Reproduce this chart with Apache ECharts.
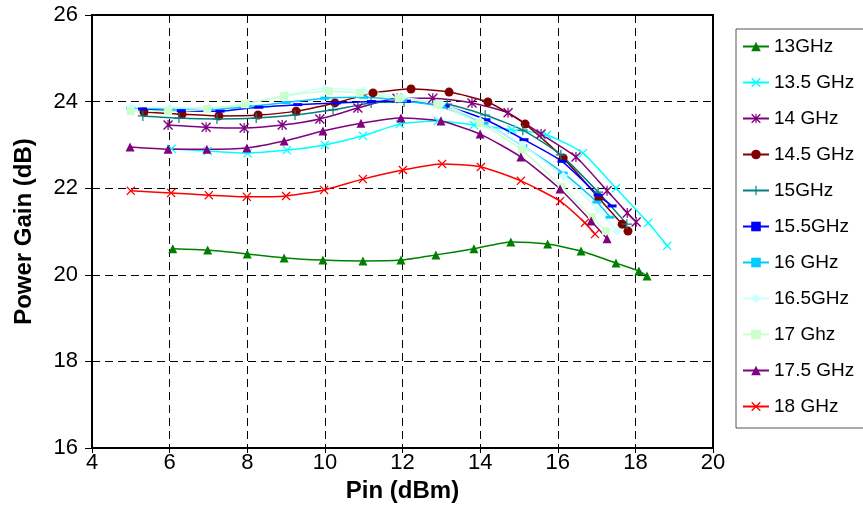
<!DOCTYPE html>
<html>
<head>
<meta charset="utf-8">
<script src="https://cdn.jsdelivr.net/npm/echarts@6/dist/echarts.min.js"></script>
<style>
  html, body { margin: 0; padding: 0; background: #fff; }
  #chart { width: 863px; height: 525px; }
</style>
</head>
<body>
<div id="chart"></div>
<script>
// Pin (dBm) / power gain (dB) per frequency
const pin13 = [6.08, 6.98, 8.0, 8.95, 9.95, 10.98, 11.96, 12.86, 13.84, 14.79, 15.74, 16.6, 17.5, 18.09, 18.3]
const gain13 = [20.6, 20.57, 20.48, 20.39, 20.34, 20.32, 20.34, 20.46, 20.6, 20.76, 20.71, 20.55, 20.27, 20.09, 19.97]

const pin135 = [6.05, 6.98, 8.01, 9.02, 10.0, 10.98, 11.93, 12.91, 13.84, 14.82, 15.72, 16.65, 17.5, 18.33, 18.82]
const gain135 = [22.91, 22.86, 22.81, 22.88, 23.0, 23.21, 23.48, 23.55, 23.46, 23.35, 23.23, 22.81, 22.0, 21.2, 20.67]

const pin14 = [5.96, 6.94, 7.92, 8.9, 9.87, 10.85, 11.86, 12.78, 13.79, 14.72, 15.57, 16.47, 17.27, 17.79, 18.02]
const gain14 = [23.46, 23.41, 23.39, 23.46, 23.6, 23.85, 24.08, 24.08, 23.97, 23.74, 23.25, 22.72, 21.94, 21.43, 21.22]

const pin145 = [5.34, 6.32, 7.27, 8.28, 9.26, 10.26, 11.24, 12.22, 13.2, 14.2, 15.16, 16.14, 17.06, 17.66, 17.81]
const gain145 = [23.76, 23.71, 23.67, 23.69, 23.78, 23.97, 24.2, 24.29, 24.22, 23.99, 23.48, 22.7, 21.77, 21.17, 21.01]

const pin15 = [5.31, 6.24, 7.22, 8.23, 9.23, 10.21, 11.19, 12.04, 13.15, 14.13, 15.1, 16.08, 17.04, 17.78]
const gain15 = [23.67, 23.62, 23.6, 23.62, 23.69, 23.81, 23.97, 23.99, 23.94, 23.69, 23.34, 22.77, 21.91, 21.17]

const pin155 = [5.3, 6.3, 7.3, 8.3, 9.3, 10.3, 11.2, 12.1, 13.1, 14.15, 15.13, 16.11, 17.04, 17.4]
const gain155 = [23.83, 23.79, 23.78, 23.87, 23.93, 23.97, 24.0, 24.01, 23.9, 23.58, 23.12, 22.62, 21.84, 21.59]

const pin16 = [5.0, 6.0, 7.0, 8.0, 9.0, 10.0, 11.0, 12.0, 13.0, 14.1, 15.1, 16.14, 17.01, 17.35]
const gain16 = [23.85, 23.83, 23.82, 23.88, 23.98, 24.08, 24.1, 24.02, 23.88, 23.5, 22.98, 22.35, 21.68, 21.33]

const pin165 = [5.0, 6.0, 7.0, 8.0, 9.0, 10.0, 11.0, 12.0, 13.0, 14.0, 15.08, 16.14, 17.04, 17.53]
const gain165 = [23.87, 23.86, 23.86, 23.96, 24.15, 24.3, 24.25, 24.1, 23.95, 23.55, 23.0, 22.28, 21.5, 21.01]

const pin17 = [5.0, 5.96, 6.97, 7.94, 8.95, 10.1, 10.9, 11.9, 12.9, 14.0, 15.08, 16.1, 16.88, 17.24]
const gain17 = [23.78, 23.78, 23.83, 23.94, 24.13, 24.24, 24.2, 24.08, 23.94, 23.5, 22.88, 22.03, 21.33, 21.01]

const pin175 = [4.98, 5.96, 6.96, 7.99, 8.95, 9.95, 10.93, 11.96, 12.99, 14.0, 15.05, 16.06, 16.86, 17.27]
const gain175 = [22.95, 22.9, 22.9, 22.93, 23.09, 23.32, 23.5, 23.62, 23.55, 23.25, 22.72, 21.98, 21.24, 20.83]

const pin18 = [5.0, 6.04, 7.01, 7.99, 9.0, 9.98, 10.98, 12.01, 13.02, 14.02, 15.05, 16.06, 16.7, 16.96]
const gain18 = [21.94, 21.89, 21.84, 21.8, 21.82, 21.96, 22.21, 22.42, 22.56, 22.49, 22.17, 21.7, 21.2, 20.94]

const names = ['13GHz', '13.5 GHz', '14 GHz', '14.5 GHz', '15GHz', '15.5GHz', '16 GHz', '16.5GHz', '17 Ghz', '17.5 GHz', '18 GHz']
const xTicks = [4, 6, 8, 10, 12, 14, 16, 18, 20]
const yTicks = [16, 18, 20, 22, 24, 26]

// marker shapes (Excel style)
const X_MARK = 'path://M0,1L1,0L5,4L9,0L10,1L6,5L10,9L9,10L5,6L1,10L0,9L4,5Z'
const PLUS_MARK = 'path://M4.4,0H5.6V4.4H10V5.6H5.6V10H4.4V5.6H0V4.4H4.4Z'
const STAR_MARK = 'path://M0,1L1,0L5,4L9,0L10,1L6,5L10,9L9,10L5,6L1,10L0,9L4,5ZM4.4,0H5.6V10H4.4Z'

const styles = [
  { color: '#008000', symbol: 'triangle', size: 9 },
  { color: '#00ffff', symbol: X_MARK, size: 9 },
  { color: '#800080', symbol: STAR_MARK, size: 10 },
  { color: '#800000', symbol: 'circle', size: 9 },
  { color: '#008080', symbol: PLUS_MARK, size: 10 },
  { color: '#0000ff', symbol: 'rect', size: [9, 3] },
  { color: '#00ccff', symbol: 'rect', size: [9, 3] },
  { color: '#ccffff', symbol: 'diamond', size: 9 },
  { color: '#ccffcc', symbol: 'rect', size: 8 },
  { color: '#800080', symbol: 'triangle', size: 9 },
  { color: '#ff0000', symbol: X_MARK, size: 9 }
]

const pins = [pin13, pin135, pin14, pin145, pin15, pin155, pin16, pin165, pin17, pin175, pin18]
const gains = [gain13, gain135, gain14, gain145, gain15, gain155, gain16, gain165, gain17, gain175, gain18]

const FONT = 'Liberation Sans, Arial, sans-serif'

const series = names.map((name, i) => ({
  name: name,
  type: 'line',
  data: pins[i].map((p, k) => [p, gains[i][k]]),
  smooth: 0.2,
  symbol: styles[i].symbol,
  symbolSize: styles[i].size,
  showAllSymbol: true,
  lineStyle: { color: styles[i].color, width: 1.5 },
  itemStyle: { color: styles[i].color },
  emphasis: { disabled: true }
}))

const chart = echarts.init(document.getElementById('chart'))
chart.setOption({
  animation: false,
  textStyle: { fontFamily: FONT },
  grid: {
    left: 92, right: 150, top: 15, bottom: 77,
    show: true, borderColor: '#000', borderWidth: 2
  },
  legend: {
    orient: 'vertical',
    left: 736, top: 29,
    itemWidth: 26, itemHeight: 12, itemGap: 17,
    padding: [8, 30, 12, 6],
    borderColor: '#555', borderWidth: 1,
    textStyle: { fontSize: 19, color: '#000', fontFamily: FONT },
    data: names
  },
  xAxis: {
    type: 'value',
    min: xTicks[0], max: xTicks[xTicks.length - 1], interval: 2,
    name: 'Pin (dBm)',
    nameLocation: 'middle', nameGap: 27,
    nameTextStyle: { fontSize: 24, fontWeight: 'bold', color: '#000' },
    axisLine: { show: true, lineStyle: { color: '#000', width: 2 } },
    axisTick: { show: true, length: 5, lineStyle: { color: '#000' } },
    axisLabel: { fontSize: 22, color: '#000', margin: 4 },
    splitLine: { show: true, lineStyle: { color: '#000', type: [8, 5], width: 1 } }
  },
  yAxis: {
    type: 'value',
    min: yTicks[0], max: yTicks[yTicks.length - 1], interval: 2,
    name: 'Power Gain (dB)',
    nameLocation: 'middle', nameGap: 56,
    nameTextStyle: { fontSize: 24, fontWeight: 'bold', color: '#000' },
    axisLine: { show: true, lineStyle: { color: '#000', width: 2 } },
    axisTick: { show: true, length: 7, lineStyle: { color: '#000' } },
    axisLabel: { fontSize: 22, color: '#000', margin: 14 },
    splitLine: { show: true, lineStyle: { color: '#000', type: [8, 5], width: 1 } }
  },
  series: series
})
</script>
</body>
</html>
